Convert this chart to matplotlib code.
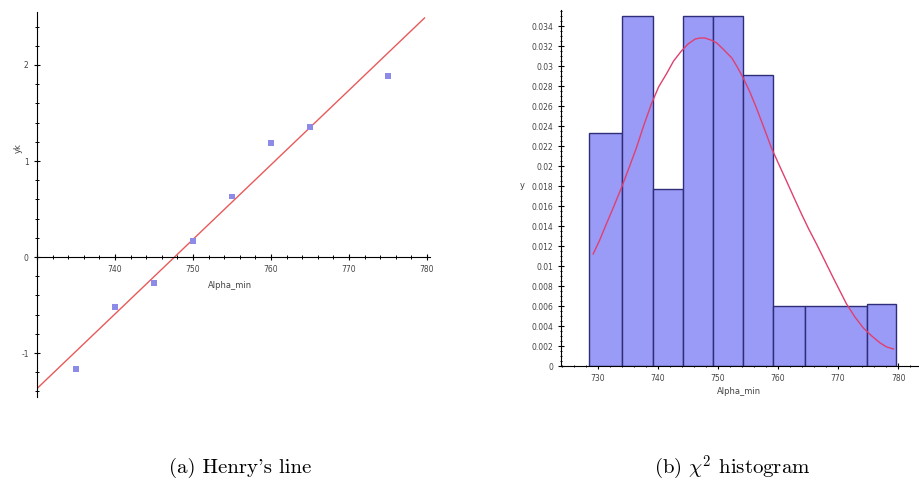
import numpy as np
import matplotlib.pyplot as plt
from matplotlib.ticker import MultipleLocator, FuncFormatter

plt.rcParams['mathtext.fontset'] = 'cm'

# Henry's line data
henry_x = [735, 740, 745, 750, 755, 760, 765, 775]
henry_y = [-1.17, -0.52, -0.27, 0.17, 0.63, 1.19, 1.35, 1.89]
line_x = [730, 779.7]
line_y = [-1.37, 2.49]

# histogram data (bin edges and densities)
bin_edges = [728.5, 734, 739.2, 744.2, 749.2, 754.2, 759.2, 764.5, 774.8, 779.7]
bin_heights = [0.0233, 0.035, 0.0177, 0.035, 0.035, 0.0291, 0.006, 0.006, 0.0062]

# fitted density curve
curve_x = [729.2, 730.3, 731.4, 732.6, 733.9, 735.1, 736.4, 737.6, 738.9, 740.1,
           741.4, 742.6, 743.9, 745.0, 746.2, 747.0, 747.8, 748.8, 749.8, 751.0,
           752.3, 753.2, 754.2, 755.3, 756.4, 757.6, 758.9, 760.1, 761.4, 762.6,
           763.9, 765.1, 766.4, 767.8, 769.2, 770.3, 771.4, 772.8, 774.2, 775.6,
           777.0, 778.1, 779.2]
curve_y = [0.0112, 0.0126, 0.0142, 0.0159, 0.0178, 0.0197, 0.0218, 0.0240, 0.0262, 0.0279,
           0.0292, 0.0305, 0.0315, 0.0322, 0.0327, 0.0328, 0.0328, 0.0326, 0.0323, 0.0316,
           0.0308, 0.0299, 0.0288, 0.0274, 0.0258, 0.0239, 0.0218, 0.0202, 0.0185, 0.0169,
           0.0152, 0.0137, 0.0122, 0.0105, 0.0088, 0.0075, 0.0062, 0.0049, 0.0038, 0.0030,
           0.0023, 0.0019, 0.0017]

tick_kw = dict(direction='inout', labelsize=5.5, labelcolor='#444444', width=0.8)

fig = plt.figure(figsize=(9.19, 4.87), dpi=100)

# ---- (a) Henry's line
ax1 = fig.add_axes([37 / 919, 1 - 397 / 487, (430 - 37) / 919, (397 - 12) / 487])
ax1.set_xlim(730, 780.4)
ax1.set_ylim(-1.458, 2.552)
for s in ['top', 'right']:
    ax1.spines[s].set_visible(False)
ax1.spines['bottom'].set_position(('data', 0))
ax1.spines['left'].set_position(('data', 730))
ax1.plot(line_x, line_y, color='#e85a5a', lw=1.0, zorder=2)
ax1.scatter(henry_x, henry_y, s=18, marker='s', color='#8c8ce8', edgecolor='none', zorder=3)
ax1.xaxis.set_major_locator(MultipleLocator(10))
ax1.xaxis.set_minor_locator(MultipleLocator(2))
ax1.yaxis.set_major_locator(MultipleLocator(1))
ax1.yaxis.set_minor_locator(MultipleLocator(0.2))
ax1.xaxis.set_major_formatter(FuncFormatter(lambda v, p: '' if v <= 730 else '%d' % v))
ax1.yaxis.set_major_formatter(FuncFormatter(lambda v, p: '%d' % v))
ax1.tick_params(which='major', length=5, **tick_kw)
ax1.tick_params(which='minor', length=3, direction='inout', width=0.7)
ax1.set_xlabel('Alpha_min', fontsize=6, color='#444444')
ax1.xaxis.set_label_coords(0.49, 0.30)
ax1.text(0.02, 0.695, 'yk', transform=fig.transFigure, fontsize=6, color='#444444',
         rotation=90, va='center', ha='center')

# ---- (b) histogram
ax2 = fig.add_axes([560.7 / 919, 1 - 366 / 487, (918 - 560.7) / 919, (366 - 10) / 487])
ax2.set_xlim(723.8, 783.3)
ax2.set_ylim(0, 0.0356)
for s in ['top', 'right']:
    ax2.spines[s].set_visible(False)
ax2.bar(bin_edges[:-1], bin_heights, width=np.diff(bin_edges), align='edge',
        color='#9a9af7', edgecolor='#2e2e78', linewidth=1.0, zorder=2)
ax2.plot(curve_x, curve_y, color='#e0406e', lw=1.0, zorder=3)
ax2.xaxis.set_major_locator(MultipleLocator(10))
ax2.xaxis.set_minor_locator(MultipleLocator(2))
ax2.yaxis.set_major_locator(MultipleLocator(0.002))
ax2.yaxis.set_minor_locator(MultipleLocator(0.0005))
ax2.yaxis.set_major_formatter(FuncFormatter(lambda v, p: ('%.3f' % v).rstrip('0').rstrip('.') if v > 1e-9 else '0'))
ax2.tick_params(which='major', length=4, **tick_kw)
ax2.tick_params(which='minor', length=2, direction='inout', width=0.7)
ax2.set_xlabel('Alpha_min', fontsize=6, color='#444444', labelpad=3)
ax2.text(566 / 919 - 0.048, 1 - 185 / 487, 'y', transform=fig.transFigure, fontsize=6,
         color='#444444', va='center', ha='center')

# ---- captions
cap_font = ['cmr10', 'DejaVu Serif']
fig.text(240 / 919, 1 - 468 / 487, "(a) Henry's line", fontsize=15, family=cap_font,
         ha='center', va='center')
fig.text(732 / 919, 1 - 468 / 487, r"(b) $\chi^2$ histogram", fontsize=15, family=cap_font,
         ha='center', va='center')

fig.savefig('out.png', dpi=100)
